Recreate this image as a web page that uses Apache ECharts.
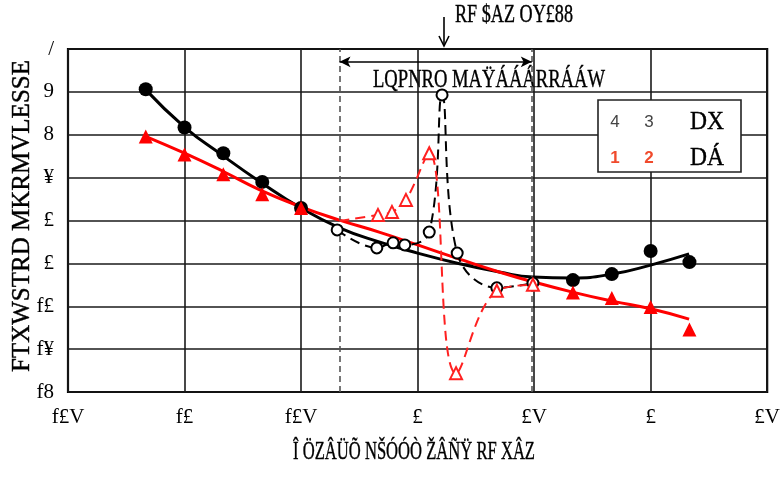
<!DOCTYPE html>
<html>
<head>
<meta charset="utf-8">
<script src="https://cdn.jsdelivr.net/npm/echarts@6/dist/echarts.min.js"></script>
<style>
  html, body { margin: 0; padding: 0; background: #fff; }
  #chart { width: 783px; height: 480px; }
</style>
</head>
<body>
<div id="chart"></div>
<script>
// tick labels (as printed)
const xLabels = ['f£V', 'f£', 'f£V', '£', '£V', '£', '£V']
const yLabels = ['f8', 'f¥', 'f£', '£', '£', '¥', '8', '9', '/']

// fitted curves
const fitX = [0.66, 1.0, 1.32, 1.65, 2.0, 2.33, 2.67, 3.0, 3.36, 3.7, 3.99, 4.33, 4.67, 5.0, 5.33]
const blackFit = [7.07, 6.18, 5.53, 4.9, 4.29, 3.83, 3.5, 3.24, 2.99, 2.8, 2.68, 2.66, 2.75, 2.96, 3.22]
const redFit = [5.97, 5.57, 5.16, 4.71, 4.32, 4.01, 3.73, 3.43, 3.1, 2.8, 2.57, 2.33, 2.12, 1.94, 1.7]

// measured points (filled markers)
const markX = [0.667, 1.0, 1.333, 1.667, 2.0, 4.333, 4.667, 5.0, 5.333]
const blackMark = [7.06, 6.17, 5.57, 4.9, 4.29, 2.61, 2.75, 3.29, 3.03]
const redMark = [5.96, 5.54, 5.08, 4.61, 4.29, 2.32, 2.19, 1.98, 1.46]

// points inside the dashed band (open markers)
const dashBlackX = [2.31, 2.65, 2.79, 2.89, 3.10, 3.21, 3.34, 3.68, 3.99]
const dashBlack = [3.78, 3.36, 3.48, 3.43, 3.73, 6.93, 3.24, 2.43, 2.54]
const dashRedX = [2.33, 2.66, 2.78, 2.9, 3.1, 3.33, 3.68, 3.99]
const dashRed = [3.99, 4.13, 4.2, 4.48, 5.57, 0.44, 2.36, 2.5]

// band limits
const bandFrom = 2.33
const bandTo = 3.98

const zip = (xs, ys) => xs.map((x, i) => [x, ys[i]])

const SERIF = '"Liberation Serif", "DejaVu Serif", serif'
const ctx = document.createElement('canvas').getContext('2d')
// squeeze a text to a given width
function squeeze (str, size, w) {
  ctx.font = size + 'px ' + SERIF
  return w / ctx.measureText(str).width
}

function label (str, x, y, size, w, extra) {
  return Object.assign({
    type: 'text',
    x: x,
    y: y,
    scaleX: squeeze(str, size, w),
    style: {
      text: str,
      font: size + 'px ' + SERIF,
      fill: '#000',
      stroke: '#000',
      lineWidth: 0.4,
      align: 'center',
      verticalAlign: 'middle'
    }
  }, extra || {})
}

const topText = 'RF $AZ OY£88'
const bandText = 'LQPNRO MAŸÁÁÁRRÁÁW'
const yTitle = 'FTXWSTRD MKRMVLESSE'
const xTitle = 'Î ÖZÂÜÕ NŠÓÓÒ ŽÂÑŸ RF XÂZ'

const chart = echarts.init(document.getElementById('chart'))

const option = {
  animation: false,
  backgroundColor: '#fff',
  grid: {
    left: 68,
    right: 15,
    top: 49,
    bottom: 88,
    show: true,
    borderColor: '#000',
    borderWidth: 2.2
  },
  xAxis: {
    type: 'value',
    min: 0,
    max: 6,
    interval: 1,
    axisLine: { show: false },
    axisTick: { show: false },
    splitLine: { lineStyle: { color: '#1a1a1a', width: 1.6 } },
    axisLabel: {
      margin: 15,
      fontFamily: SERIF,
      fontSize: 21,
      color: '#000',
      formatter: v => xLabels[Math.round(v)]
    }
  },
  yAxis: {
    type: 'value',
    min: 0,
    max: 8,
    interval: 1,
    axisLine: { show: false },
    axisTick: { show: false },
    splitLine: { lineStyle: { color: '#1a1a1a', width: 1.6 } },
    axisLabel: {
      margin: 14,
      fontFamily: SERIF,
      fontSize: 21,
      color: '#000',
      formatter: v => yLabels[Math.round(v)]
    }
  },
  series: [
    {
      type: 'line',
      data: zip(fitX, blackFit),
      smooth: true,
      showSymbol: false,
      lineStyle: { color: '#000', width: 3 },
      z: 3,
      markLine: {
        silent: true,
        symbol: 'none',
        label: { show: false },
        lineStyle: { color: '#555', type: [6, 4], width: 1.6 },
        data: [{ xAxis: bandFrom }, { xAxis: bandTo }]
      }
    },
    {
      type: 'line',
      data: zip(fitX, redFit),
      smooth: true,
      showSymbol: false,
      lineStyle: { color: '#ff0000', width: 3 },
      z: 4,
      markLine: {
        silent: true,
        symbol: ['arrow', 'arrow'],
        symbolSize: [8, 11],
        label: { show: false },
        lineStyle: { color: '#000', type: 'solid', width: 1.5 },
        data: [[{ coord: [bandFrom, 7.7] }, { coord: [bandTo, 7.7] }]]
      }
    },
    {
      type: 'line',
      data: zip(dashBlackX, dashBlack),
      smooth: 0.4,
      symbol: 'emptyCircle',
      symbolSize: 11,
      itemStyle: { color: '#000', borderWidth: 1.5 },
      lineStyle: { color: '#000', width: 2, type: [10, 6] },
      z: 5
    },
    {
      type: 'line',
      data: zip(dashRedX, dashRed).map((p, i) => i === 0 ? { value: p, symbol: 'none' } : p),
      smooth: 0.4,
      symbol: 'emptyTriangle',
      symbolSize: 12,
      itemStyle: { color: '#ff2020', borderWidth: 1.5 },
      lineStyle: { color: '#ff2020', width: 2, type: [10, 6] },
      z: 5
    },
    {
      type: 'scatter',
      data: zip(markX, blackMark),
      symbol: 'circle',
      symbolSize: 14,
      itemStyle: { color: '#000', opacity: 1 },
      z: 6
    },
    {
      type: 'scatter',
      data: zip(markX, redMark),
      symbol: 'triangle',
      symbolSize: 14,
      itemStyle: { color: '#ff0000', opacity: 1 },
      z: 6
    }
  ],
  graphic: [
    // arrow pointing at the peak
    { type: 'line', shape: { x1: 444, y1: 17, x2: 444, y2: 45 }, style: { stroke: '#000', lineWidth: 1.6 } },
    { type: 'polyline', shape: { points: [[439, 36], [444, 46], [449, 36]] }, style: { stroke: '#000', lineWidth: 1.6, fill: null } },
    label(topText, 514, 15, 26, 118),
    label(bandText, 489, 80, 26, 232),
    // legend box
    {
      type: 'rect',
      shape: { x: 598, y: 100, width: 143, height: 72 },
      style: { fill: '#fff', stroke: '#222', lineWidth: 1.6 },
      z: 50
    },
    { type: 'text', x: 615, y: 122, z: 51, style: { text: '4', font: '17px "Liberation Sans", sans-serif', fill: '#444', align: 'center', verticalAlign: 'middle' } },
    { type: 'text', x: 649, y: 122, z: 51, style: { text: '3', font: '17px "Liberation Sans", sans-serif', fill: '#444', align: 'center', verticalAlign: 'middle' } },
    { type: 'text', x: 615, y: 158, z: 51, style: { text: '1', font: 'bold 17px "Liberation Sans", sans-serif', fill: '#f04a2c', align: 'center', verticalAlign: 'middle' } },
    { type: 'text', x: 649, y: 158, z: 51, style: { text: '2', font: 'bold 17px "Liberation Sans", sans-serif', fill: '#f04a2c', align: 'center', verticalAlign: 'middle' } },
    label('DX', 707, 122, 26, 34, { z: 51 }),
    label('DÁ', 707, 158, 26, 34, { z: 51 }),
    // axis titles
    label(xTitle, 414, 452, 26, 242),
    label(yTitle, 22, 216, 26, 312, { rotation: Math.PI / 2 })
  ]
}

chart.setOption(option)
</script>
</body>
</html>
